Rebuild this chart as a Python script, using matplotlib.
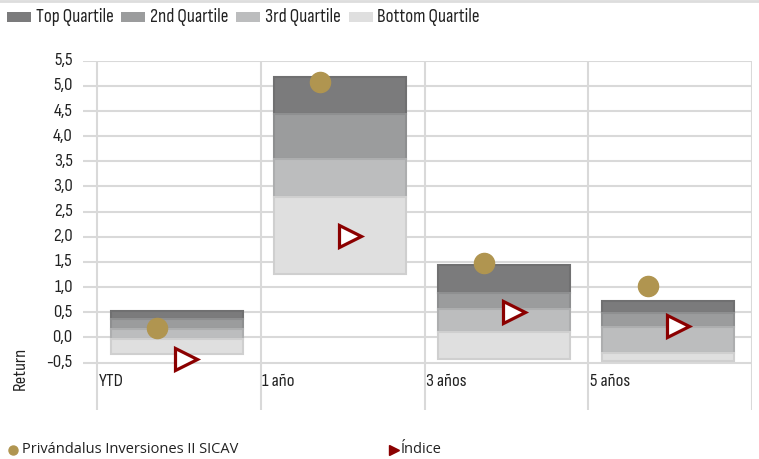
import matplotlib
matplotlib.use("Agg")
import matplotlib.pyplot as plt
from matplotlib.patches import Rectangle
from matplotlib.lines import Line2D

# ---- data ----
categories = ["YTD", "1 año", "3 años", "5 años"]
q_min = [-0.33, 1.26, -0.43, -0.46]
q_25 = [-0.04, 2.80, 0.10, -0.30]
q_50 = [0.17, 3.55, 0.57, 0.21]
q_75 = [0.37, 4.44, 0.89, 0.49]
q_max = [0.53, 5.18, 1.44, 0.73]
fund_values = [0.19, 5.08, 1.47, 1.03]
index_values = [-0.43, 2.02, 0.51, 0.23]
quartile_labels = ["Top Quartile", "2nd Quartile", "3rd Quartile", "Bottom Quartile"]
fund_name = "Privándalus Inversiones II SICAV"
index_name = "Índice"
y_ticks = [-0.5, 0.0, 0.5, 1.0, 1.5, 2.0, 2.5, 3.0, 3.5, 4.0, 4.5, 5.0, 5.5]

# ---- styles ----
fills = ["#7b7b7c", "#9b9c9d", "#bcbdbe", "#dfdfdf"]
edges = ["#707071", "#8e8f90", "#adaeaf", "#cfcfcf"]
gold = "#b09550"
dark_red = "#8b0000"
grid_c = "#d9d9d9"
text_c = "#222222"

narrow_fam = ["Sofia Sans Condensed", "Barlow Condensed", "Roboto Condensed", "DejaVu Sans"]
legend_fam = ["Open Sans", "DejaVu Sans"]
fs = 13.5

W, H = 759, 459
fig = plt.figure(figsize=(W / 100, H / 100), dpi=100)

# axes in pixel terms: x 83..752, y 60.7..410.4
left, right = 83 / W, 752 / W
top, bottom = 1 - 60.7 / H, 1 - 410.4 / H
ax = fig.add_axes([left, bottom, right - left, top - bottom])
ax.set_xlim(-0.087, 4.0)
ax.set_ylim(-1.45, 5.5)
for s in ax.spines.values():
    s.set_visible(False)
ax.set_xticks([])
ax.set_yticks([])

# horizontal grid
for t in y_ticks:
    ax.axhline(t, color=grid_c, lw=1.5, zorder=0)
# vertical category separators
for i in range(len(categories) + 1):
    ax.plot([i, i], [-1.45, 5.45], color=grid_c, lw=1.5, zorder=0)

# y tick labels
for t in y_ticks:
    ax.text(-0.15, t, f"{t:.1f}".replace(".", ","), ha="right", va="center",
            fontsize=fs, family=narrow_fam, color=text_c)
ax.text(-0.47, -0.62, "Return", rotation=90, ha="center", va="center",
        fontsize=fs, family=narrow_fam, color=text_c)

# quartile bars
xs = [i + 0.485 for i in range(len(categories))]
width = 0.806
lows = [q_75, q_50, q_25, q_min]
highs = [q_max, q_75, q_50, q_25]
for k in range(4):
    heights = [h - l for h, l in zip(highs[k], lows[k])]
    ax.bar(xs, heights, width=width, bottom=lows[k], color=fills[k],
           edgecolor=edges[k], linewidth=1.5, zorder=2)

# category labels
for i, c in enumerate(categories):
    ax.text(i + 0.008, -0.87, c, ha="left", va="center", fontsize=fs,
            family=narrow_fam, color=text_c)

# fund and index markers
ax.plot([i + 0.363 for i in range(len(categories))], fund_values, "o",
        color=gold, markersize=14.5, zorder=4, linestyle="none")
ax.plot([i + 0.545 for i in range(len(categories))], index_values, ">",
        markerfacecolor="white", markeredgecolor=dark_red, markersize=16,
        markeredgewidth=2.3, zorder=4, linestyle="none")

# top legend
patch_x = [7, 121, 236, 349]
text_x = [36, 150, 265, 377]
for k in range(4):
    fig.patches.append(Rectangle((patch_x[k] / W, 1 - 22 / H), 24 / W, 10 / H,
                                 transform=fig.transFigure, facecolor=fills[k],
                                 edgecolor="none"))
    fig.text(text_x[k] / W, 1 - 17 / H, quartile_labels[k], ha="left", va="center",
             fontsize=13.8, family=narrow_fam, color=text_c)

# top border line
fig.add_artist(Line2D([0, 1], [1 - 1 / H, 1 - 1 / H], transform=fig.transFigure,
                      color="#dddddd", lw=2))

# bottom legend
fig.add_artist(Line2D([12.5 / W], [1 - 449.5 / H], transform=fig.transFigure,
                      marker="o", color=gold, markersize=6.5, linestyle="none"))
fig.text(22.5 / W, 1 - 449.5 / H, fund_name, ha="left", va="center",
         fontsize=10.5, family=legend_fam, color=text_c)
fig.add_artist(Line2D([393.5 / W], [1 - 449.5 / H], transform=fig.transFigure,
                      marker=">", color=dark_red, markersize=7.5, linestyle="none"))
fig.text(401 / W, 1 - 449.5 / H, index_name, ha="left", va="center",
         fontsize=10.5, family=legend_fam, color=text_c)

fig.savefig("out.png", dpi=100)
